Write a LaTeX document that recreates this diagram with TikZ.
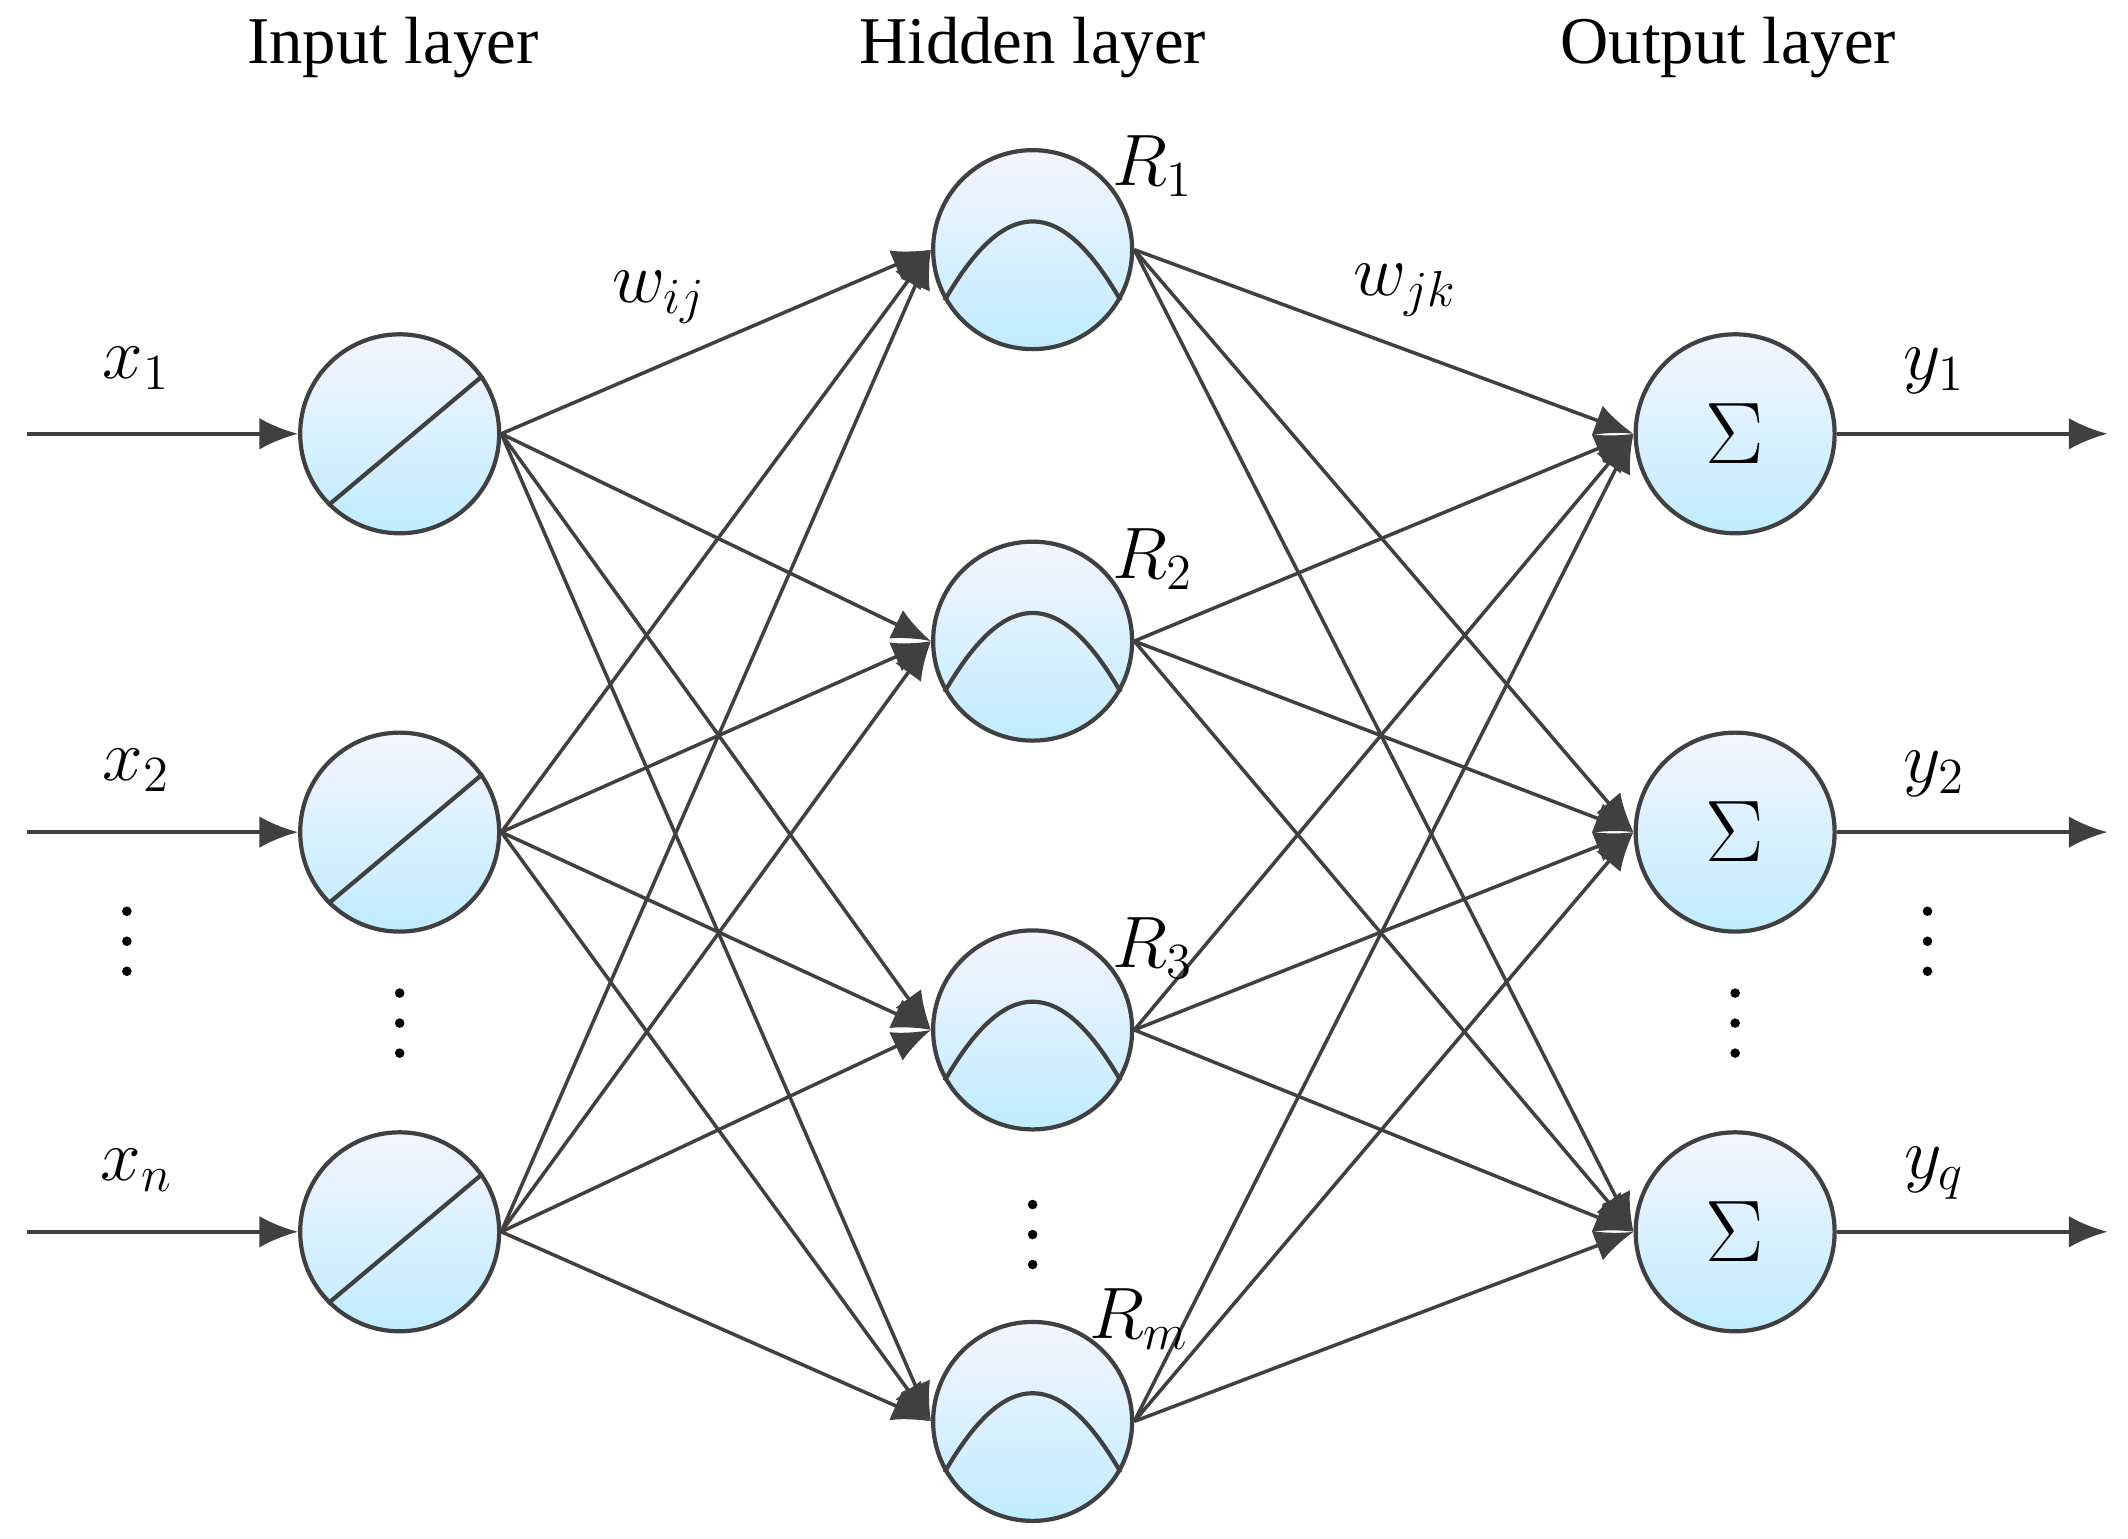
\documentclass[tikz,border=0pt]{standalone}
\usepackage{fontspec}
\setmainfont{Liberation Serif}
\usetikzlibrary{arrows.meta,calc}
\begin{document}
\begin{tikzpicture}[x=0.01364cm,y=-0.01364cm,
  neuron/.style={circle,minimum size=1.99cm,inner sep=0pt,draw=black!75,line width=1.2pt,top color=blue!4!white,bottom color=blue!30!cyan!25!white,shading angle=0},
  conn/.style={draw=black!75,line width=1pt,-{Latex[length=11pt,width=9pt]}},
  lbl/.style={font=\fontsize{20}{24}\selectfont},
  ttl/.style={font=\fontsize{19}{23}\selectfont},
  dots/.style={font=\fontsize{26}{26}\selectfont\bfseries}]
\useasboundingbox (0,0) rectangle (1560,1128);
% nodes
\foreach \i/\y in {1/318,2/610,3/903} \node[neuron] (in\i) at (293,\y) {};
\foreach \i/\y in {1/183,2/470,3/755,4/1042} \node[neuron] (h\i) at (757,\y) {};
\foreach \i/\y in {1/318,2/610,3/903} \node[neuron] (out\i) at (1272,\y) {\fontsize{40}{40}\selectfont$\Sigma$};
% icons
\foreach \i in {1,2,3} \draw[black!75,line width=1.2pt] (in\i.225) -- (in\i.35);
\foreach \i in {1,2,3,4} \draw[black!75,line width=1.2pt] (h\i.210) .. controls ($(h\i.center)+(-20,-40)$) and ($(h\i.center)+(20,-40)$) .. (h\i.330);
% input/output arrows
\foreach \i/\y in {1/318,2/610,3/903} {
  \coordinate (s\i) at (20,\y); \coordinate (e\i) at (1545,\y);
  \draw[conn] (s\i) -- (in\i.west);
  \draw[conn] (out\i.east) -- (e\i);
}
% connections
\foreach \a in {1,2,3} \foreach \b in {1,2,3,4} \draw[conn] (in\a.east) -- (h\b.west);
\foreach \a in {1,2,3,4} \foreach \b in {1,2,3} \draw[conn] (h\a.east) -- (out\b.west);
% labels
\node[ttl] (t1) at (288,35) {Input layer};
\node[ttl] (t2) at (757,35) {Hidden layer};
\node[ttl] (t3) at (1267,35) {Output layer};
\node[lbl] (lx1) at (100,270) {$x_1$};
\node[lbl] (lx2) at (100,565) {$x_2$};
\node[lbl] (lxn) at (100,858) {$x_n$};
\node[lbl] (ly1) at (1418,272) {$y_1$};
\node[lbl] (ly2) at (1418,567) {$y_2$};
\node[lbl] (lyq) at (1418,860) {$y_q$};
\node[lbl] (r1) at (845,122) {$R_1$};
\node[lbl] (r2) at (845,410) {$R_2$};
\node[lbl] (r3) at (845,695) {$R_3$};
\node[lbl] (rm) at (835,967) {$R_m$};
\node[lbl] (wij) at (483,218) {$w_{ij}$};
\node[lbl] (wjk) at (1030,213) {$w_{jk}$};
\foreach \x/\y in {93/690,293/750,757/905,1272/750,1413/690}
  \foreach \d in {-22,0,22} \fill[black] (\x,\y+\d) circle (3.5);
\end{tikzpicture}
\end{document}
